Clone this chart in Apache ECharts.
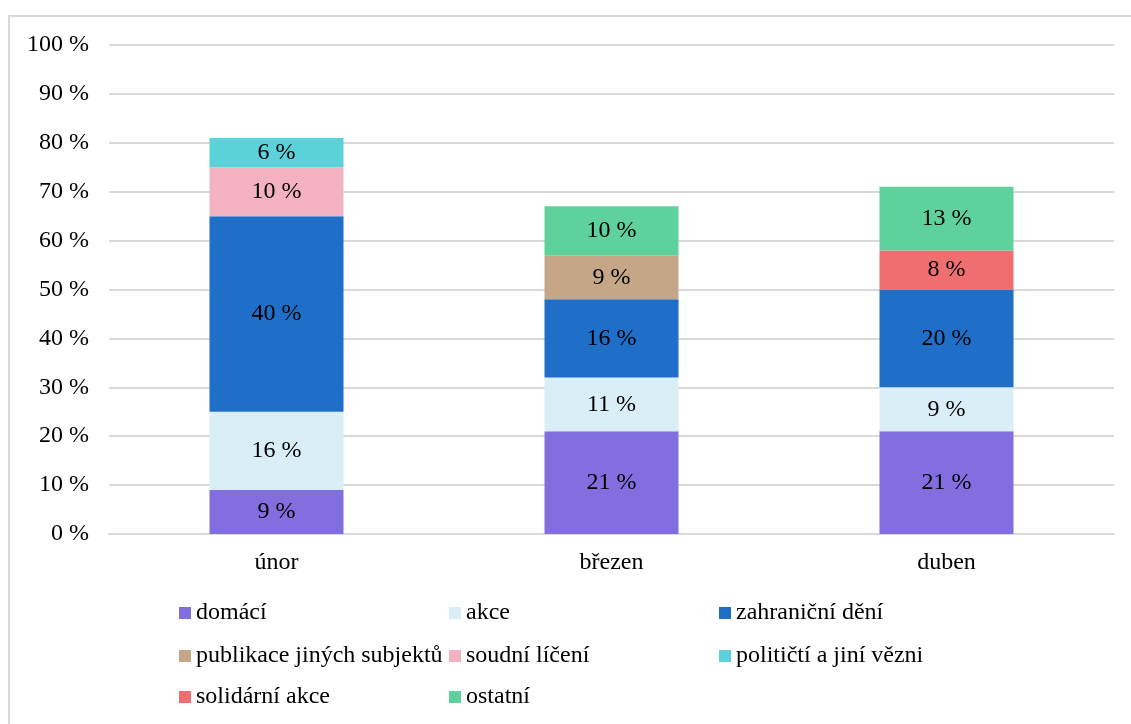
<!DOCTYPE html>
<html>
<head>
<meta charset="utf-8">
<script src="https://cdn.jsdelivr.net/npm/echarts@6/dist/echarts.min.js"></script>
<style>
html,body{margin:0;padding:0;background:#fff;}
#chart{width:1131px;height:724px;}
</style>
</head>
<body>
<div id="chart"></div>
<script>
const categories = ['únor', 'březen', 'duben'];
const seriesNames = ['domácí', 'akce', 'zahraniční dění', 'publikace jiných subjektů', 'soudní líčení', 'političtí a jiní vězni', 'solidární akce', 'ostatní'];
const domaci = [9, 21, 21];
const akce = [16, 11, 9];
const zahranicni = [40, 16, 20];
const publikace = [null, 9, null];
const soudni = [10, null, null];
const politicti = [6, null, null];
const solidarni = [null, null, 8];
const ostatni = [null, 10, 13];
const seriesValues = [domaci, akce, zahranicni, publikace, soudni, politicti, solidarni, ostatni];
const colors = ['#836EDF', '#DAEEF8', '#1F6FC8', '#C5A788', '#F4B1C1', '#5BD1D9', '#EF6F71', '#5FD19C'];
const yTicks = [0, 10, 20, 30, 40, 50, 60, 70, 80, 90, 100];

const FONT = '"Liberation Serif", "Times New Roman", serif';
const chart = echarts.init(document.getElementById('chart'));

function legendRow(names, top) {
  return {
    data: names,
    left: 179,
    top: top,
    padding: 0,
    orient: 'horizontal',
    icon: 'rect',
    itemWidth: 12,
    itemHeight: 12,
    itemGap: 5,
    selectedMode: false,
    textStyle: {fontFamily: FONT, fontSize: 24, color: '#000', width: 248, lineHeight: 28, padding: [0,0,0,0]}
  };
}

chart.setOption({
  animation: false,
  color: colors,
  graphic: [{
    type: 'rect', shape: {x: 9, y: 16, width: 1300, height: 900},
    style: {fill: 'none', stroke: '#d9d9d9', lineWidth: 2}, silent: true
  }],
  grid: {left: 109, right: 17, top: 45, bottom: 190, containLabel: false},
  legend: [
    legendRow(seriesNames.slice(0, 3), 599),
    legendRow(seriesNames.slice(3, 6), 642),
    legendRow(seriesNames.slice(6, 8), 683)
  ],
  xAxis: {
    type: 'category',
    data: categories,
    axisTick: {show: false},
    axisLine: {show: true, lineStyle: {color: '#d9d9d9', width: 2}},
    axisLabel: {fontFamily: FONT, fontSize: 24, color: '#000', margin: 17}
  },
  yAxis: {
    type: 'value',
    min: yTicks[0],
    max: yTicks[yTicks.length - 1],
    interval: 10,
    axisLine: {show: false},
    axisTick: {show: false},
    splitLine: {lineStyle: {color: '#d9d9d9', width: 2}},
    axisLabel: {fontFamily: FONT, fontSize: 24, color: '#000', margin: 20, formatter: '{value} %'}
  },
  series: seriesNames.map((name, i) => ({
    name: name,
    type: 'bar',
    stack: 'total',
    barWidth: 134,
    data: seriesValues[i],
    itemStyle: {color: colors[i]},
    label: {
      show: true,
      position: 'inside',
      fontFamily: FONT,
      fontSize: 24,
      color: '#000',
      formatter: p => p.value == null ? '' : p.value + ' %'
    }
  }))
});
</script>
</body>
</html>
